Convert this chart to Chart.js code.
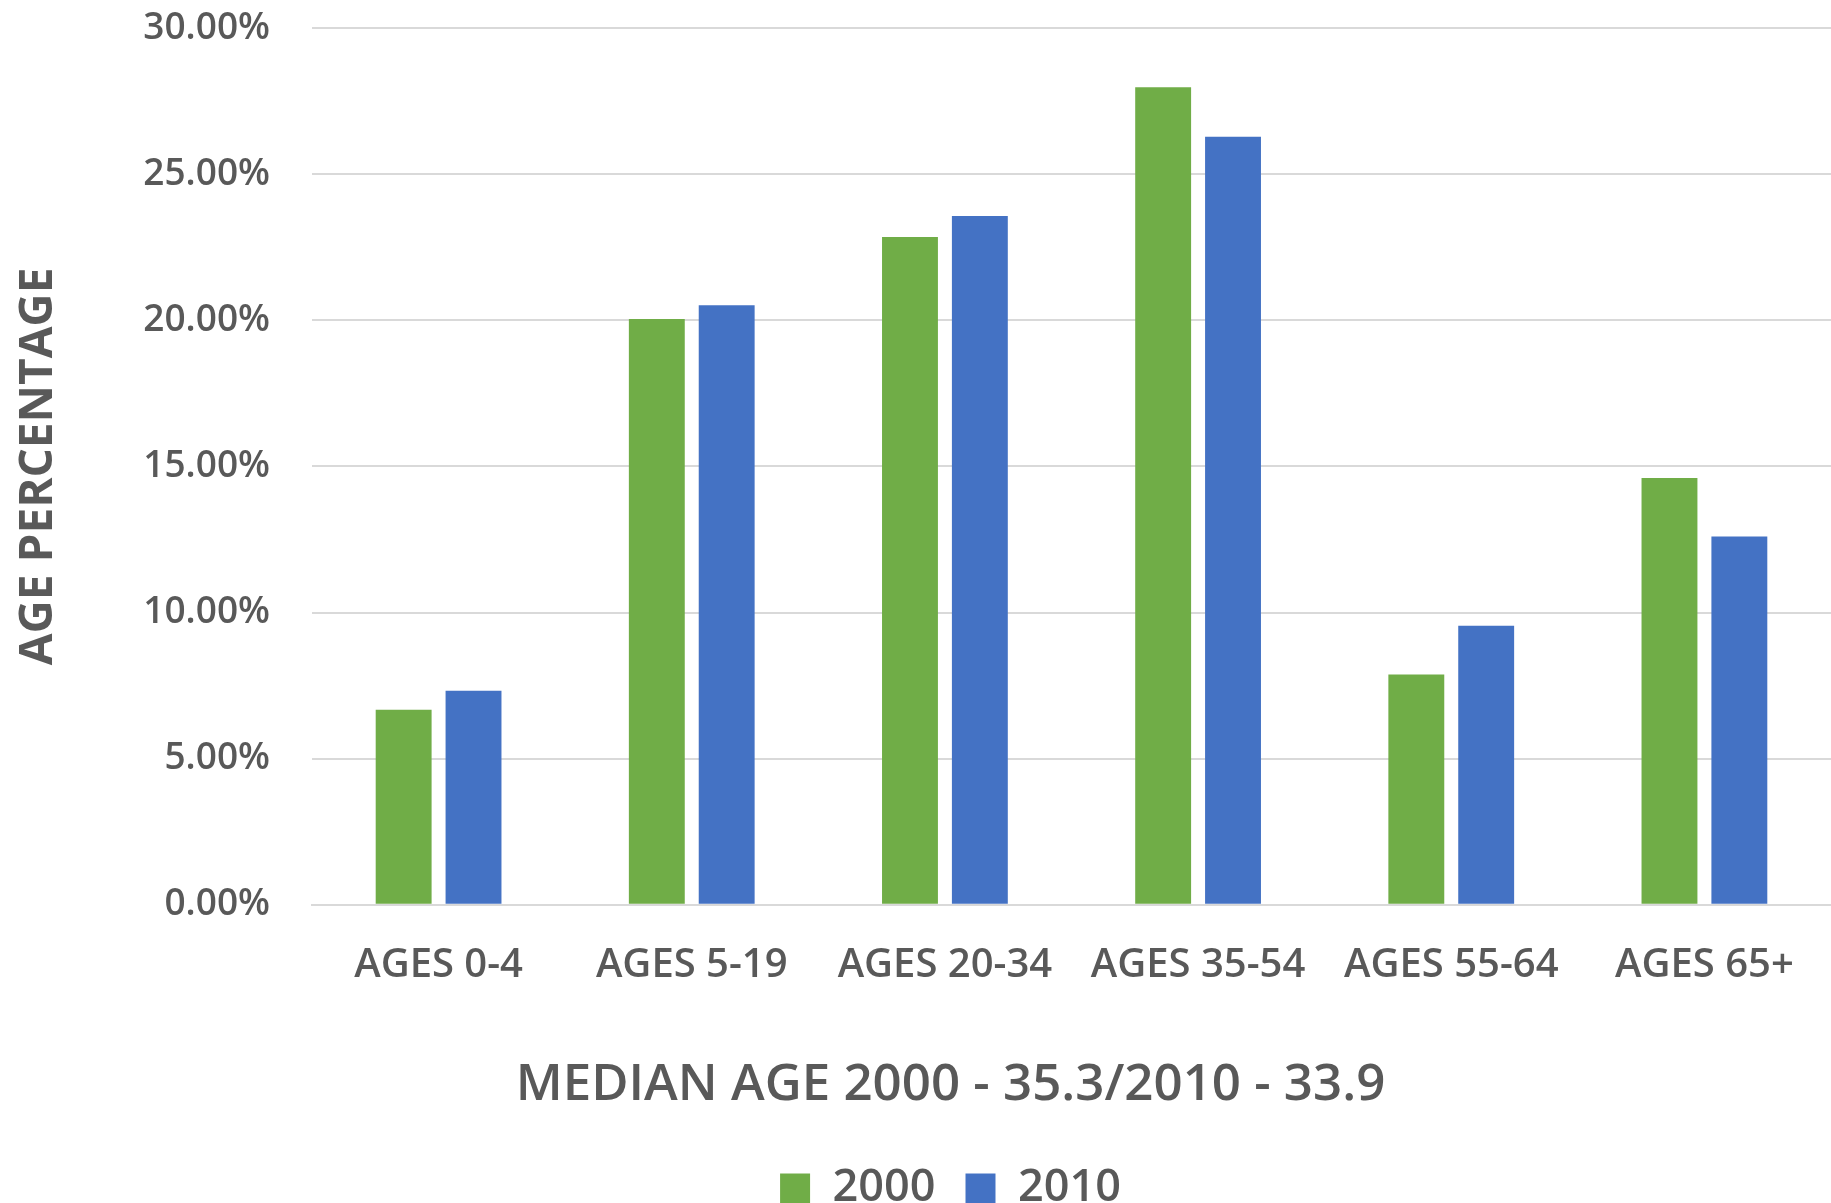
<!DOCTYPE html>
<html>
<head>
<meta charset="utf-8">
<script src="https://cdn.jsdelivr.net/npm/chart.js@4.4.1/dist/chart.umd.min.js"></script>
<style>
  html, body { margin: 0; padding: 0; background: #ffffff; }
  #wrap { width: 1831px; height: 1203px; }
</style>
</head>
<body>
<div id="wrap"><canvas id="c" width="1831" height="1203"></canvas></div>
<script>
// Age groups along the x axis
const categories = ['AGES 0-4', 'AGES 5-19', 'AGES 20-34', 'AGES 35-54', 'AGES 55-64', 'AGES 65+'];
// Share of population in each age group (percent)
const share2000 = [6.67, 20.04, 22.85, 27.97, 7.88, 14.60];
const share2010 = [7.32, 20.51, 23.57, 26.28, 9.55, 12.60];
const seriesNames = ['2000', '2010'];
// Value axis range and tick step (percent)
const yMin = 0, yMax = 30, yStep = 5;
const yAxisTitle = 'AGE PERCENTAGE';
const xAxisTitle = 'MEDIAN AGE 2000 - 35.3/2010 - 33.9';

const GREEN = '#70AD47';
const BLUE = '#4472C4';
const TEXT = '#595959';
const GRID = '#D9D9D9';
const FAMILY = '"Open Sans", "Noto Sans", sans-serif';

// Left inset for the full-width boxes (bottom title and legend)
const LEFT_INSET = 70;

new Chart(document.getElementById('c'), {
  type: 'bar',
  data: {
    labels: categories,
    datasets: [
      { label: seriesNames[0], data: share2000, backgroundColor: GREEN },
      { label: seriesNames[1], data: share2010, backgroundColor: BLUE }
    ]
  },
  options: {
    responsive: false,
    animation: false,
    devicePixelRatio: 1,
    datasets: { bar: { categoryPercentage: 0.552, barPercentage: 0.8 } },
    layout: { padding: { top: 28, left: LEFT_INSET, right: 0, bottom: -18 } },
    scales: {
      x: {
        grid: { display: false, drawTicks: false },
        border: { display: true, color: GRID, width: 2 },
        ticks: { color: TEXT, padding: 37, font: { family: FAMILY, size: 40, weight: '600' } },
        afterFit: (s) => { s.height = 120; }
      },
      y: {
        min: yMin, max: yMax,
        grid: { color: GRID, lineWidth: 2, drawTicks: false },
        border: { display: false },
        ticks: {
          stepSize: yStep, color: TEXT, padding: 42,
          font: { family: FAMILY, size: 37, weight: '600' },
          callback: (v) => v.toFixed(2) + '%'
        },
        title: {
          display: true, text: yAxisTitle, color: TEXT,
          padding: { top: 11 - LEFT_INSET, bottom: 0 },
          font: { family: FAMILY, size: 46, weight: 'bold' }
        },
        afterFit: (s) => { s.width = 312 - LEFT_INSET; s.paddingTop = 0; }
      }
    },
    plugins: {
      tooltip: { enabled: false },
      title: {
        display: true, position: 'bottom', text: xAxisTitle, color: TEXT,
        weight: 500,
        padding: { top: 30, bottom: 20 },
        font: { family: FAMILY, size: 51, weight: '600' }
      },
      legend: {
        position: 'bottom',
        labels: {
          color: TEXT, boxWidth: 30, boxHeight: 30, padding: 30,
          font: { family: FAMILY, size: 45, weight: '600' }
        }
      }
    }
  }
});
</script>
</body>
</html>
